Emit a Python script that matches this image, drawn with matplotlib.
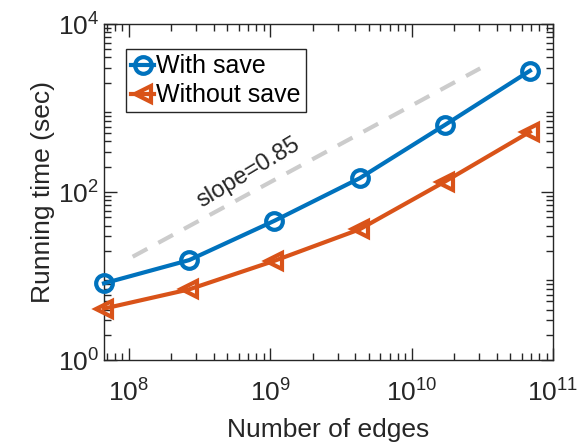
import matplotlib
matplotlib.use('Agg')
import matplotlib.pyplot as plt
import numpy as np

plt.rcParams['font.family'] = ['Liberation Sans', 'DejaVu Sans']

# data
edges = [2**26, 2**28, 2**30, 2**32, 2**34, 2**36]
with_save = [8.2, 15.5, 45.5, 146, 628, 2780]
without_save = [4.1, 6.95, 15.2, 36, 133, 522]
ref_x = [1.07e8, 3.06e10]
ref_y = [17, 2970]

blue = '#0072BD'
orange = '#D95319'
axc = '#262626'

fig = plt.figure(figsize=(5.85, 4.44), dpi=100)
ax = fig.add_axes([0.1778, 0.189, 0.7675, 0.7568])

ax.plot(ref_x, ref_y, '--', color='#cccccc', lw=3, dashes=(4, 3), zorder=1)
ax.plot(edges, with_save, '-o', color=blue, lw=3, ms=12, mew=3, mfc='none',
        label='With save', clip_on=False, zorder=3)
ax.plot(edges, without_save, '-<', color=orange, lw=3, ms=12, mew=3, mfc='none',
        label='Without save', clip_on=False, zorder=3)

ax.text(7.0e8, 168, 'slope=0.85', rotation=31, fontsize=17, color=axc,
        ha='center', va='center')

ax.set_xscale('log')
ax.set_yscale('log')
ax.set_xlim(2**26, 1e11)
ax.set_ylim(1, 1e4)
ax.set_xticks([1e8, 1e9, 1e10, 1e11])
ax.set_yticks([1, 1e2, 1e4])
ax.tick_params(which='both', direction='in', top=True, right=True, colors=axc,
               labelsize=19)
ax.tick_params(which='major', length=9, width=1)
ax.tick_params(which='minor', length=5, width=1)
ax.tick_params(axis='x', which='major', pad=14)
minloc = matplotlib.ticker.LogLocator(base=10, subs=np.arange(2, 10), numticks=20)
ax.yaxis.set_minor_locator(minloc)
ax.xaxis.set_minor_locator(matplotlib.ticker.LogLocator(base=10, subs=np.arange(2, 10), numticks=20))
ax.xaxis.set_minor_formatter(matplotlib.ticker.NullFormatter())
ax.yaxis.set_minor_formatter(matplotlib.ticker.NullFormatter())
for s in ax.spines.values():
    s.set_color(axc)
    s.set_linewidth(1)

ax.set_xlabel('Number of edges', fontsize=19, color=axc, labelpad=8)
ax.set_ylabel('Running time (sec)', fontsize=19, color=axc, labelpad=2)

leg = ax.legend(loc='upper left', bbox_to_anchor=(0.05, 0.925), fontsize=18,
                handlelength=0.9, handletextpad=0.1, borderpad=0.2,
                labelspacing=0.2, fancybox=False, framealpha=1, borderaxespad=0)
leg.get_frame().set_edgecolor(axc)
leg.get_frame().set_linewidth(1)

fig.savefig('out.png', dpi=100)
